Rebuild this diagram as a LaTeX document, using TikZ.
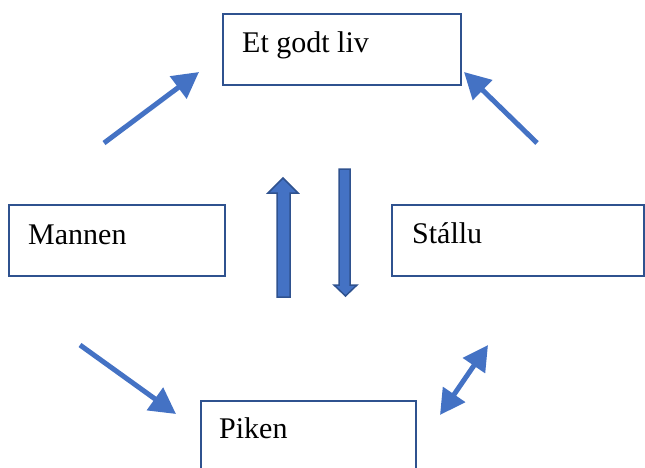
\documentclass[tikz,border=0pt]{standalone}
\usepackage{fontspec}
\setmainfont{Liberation Serif}
\usetikzlibrary{arrows.meta}
\definecolor{accent}{HTML}{4472C4}
\definecolor{edge}{HTML}{2F528F}
\tikzset{
  box/.style={draw=edge, line width=1.6pt, rectangle, inner sep=0pt, anchor=north west},
  label/.style={anchor=base west, inner sep=0pt, font=\fontsize{30}{34}\selectfont},
  link/.style={draw=accent, line width=5pt, -{Triangle[length=26pt,width=27pt]}},
  duallink/.style={draw=accent, line width=5pt, {Triangle[length=25pt,width=26pt]}-{Triangle[length=25pt,width=26pt]}},
  blockarrow/.style={fill=accent, draw=edge, line width=1.5pt, line join=miter}
}
\begin{document}
\begin{tikzpicture}[x=1pt,y=-1pt]
  \useasboundingbox (0,0) rectangle (645,467);

  % boxes
  \node[box, minimum width=238pt, minimum height=71pt] (liv) at (222,13) {};
  \node[box, minimum width=216pt, minimum height=71pt] (mannen) at (8,204) {};
  \node[box, minimum width=252pt, minimum height=71pt] (stallu) at (391,204) {};
  \node[box, minimum width=215pt, minimum height=90pt] (piken) at (200,400) {};

  % box texts
  \node[label] (livtxt) at (242,52) {Et godt liv};
  \node[label] (mannentxt) at (28,244) {Mannen};
  \node[label] (stallutxt) at (412,243) {Stállu};
  \node[label] (pikentxt) at (219,438) {Piken};

  % free-standing arrows
  \coordinate (a1s) at (104,143);
  \coordinate (a1e) at (199,72);
  \coordinate (a2s) at (537,143);
  \coordinate (a2e) at (464,72);
  \coordinate (a3s) at (80,345);
  \coordinate (a3e) at (176,414);
  \coordinate (a4s) at (440,415);
  \coordinate (a4e) at (488,345);
  \draw[link] (a1s) -- (a1e);
  \draw[link] (a2s) -- (a2e);
  \draw[link] (a3s) -- (a3e);
  \draw[duallink] (a4s) -- (a4e);

  % block arrows in the middle
  \draw[blockarrow] (277,297) -- (277,193) -- (268,193) -- (283,178) -- (298,193)
        -- (290,193) -- (290,297) -- cycle;
  \draw[blockarrow] (339,169) -- (350,169) -- (350,285) -- (357,285) -- (345.5,296)
        -- (334,285) -- (339,285) -- cycle;
\end{tikzpicture}
\end{document}
